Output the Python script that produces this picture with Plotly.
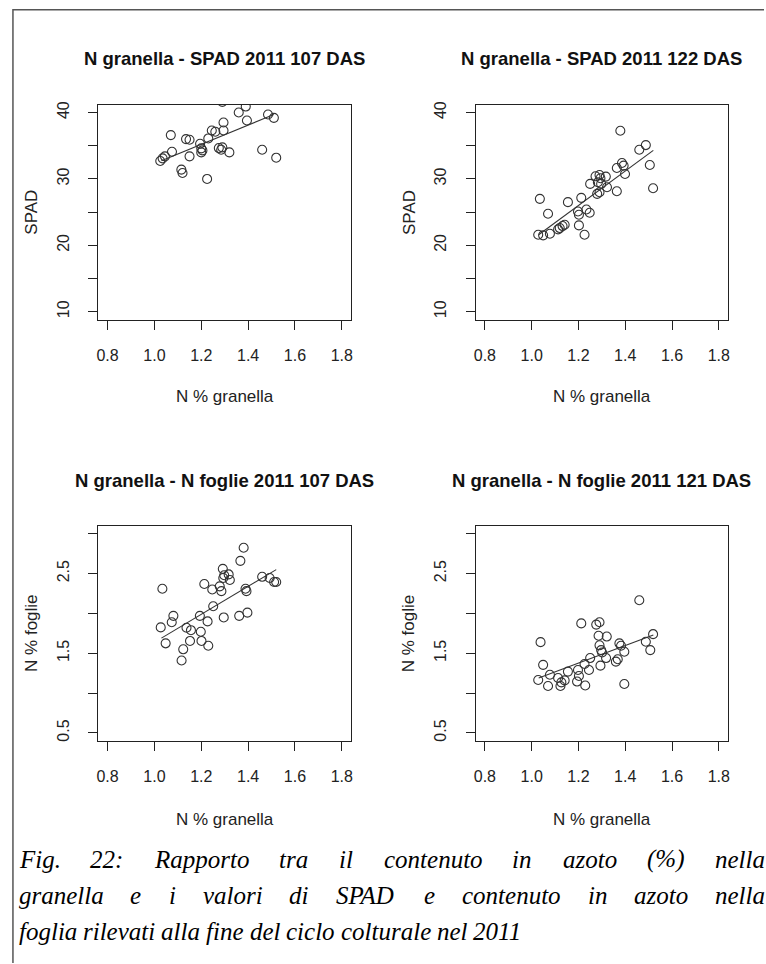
import plotly.graph_objects as go

W, H = 766, 964

# ---------------- data ----------------
x_spad107 = [1.29, 1.39, 1.36, 1.485, 1.51, 1.395, 1.295, 1.295, 1.245, 1.26, 1.23, 1.07,
             1.135, 1.15, 1.195, 1.2, 1.205, 1.2, 1.275, 1.29, 1.285, 1.32, 1.075, 1.15,
             1.025, 1.035, 1.045, 1.46, 1.52, 1.115, 1.12, 1.225]
y_spad107 = [41.6, 40.9, 40.0, 39.7, 39.2, 38.8, 38.5, 37.3, 37.3, 37.1, 36.1, 36.6,
             36.0, 35.9, 35.3, 34.6, 34.3, 34.0, 34.65, 34.75, 34.4, 34.0, 34.1, 33.4,
             32.7, 33.1, 33.4, 34.4, 33.2, 31.4, 30.9, 30.0]
fit_x_spad107 = [1.03, 1.51]
fit_y_spad107 = [32.75, 39.7]

x_spad122 = [1.379, 1.488, 1.46, 1.505, 1.519, 1.386, 1.393, 1.399, 1.364, 1.364,
             1.273, 1.29, 1.294, 1.317, 1.283, 1.297, 1.25, 1.322, 1.29, 1.28,
             1.212, 1.155, 1.035, 1.07, 1.198, 1.202, 1.234, 1.248, 1.202, 1.226,
             1.12, 1.132, 1.141, 1.113, 1.028, 1.049, 1.078]
y_spad122 = [37.25, 35.1, 34.4, 32.1, 28.6, 32.4, 32.0, 30.75, 31.65, 28.15,
             30.4, 30.6, 30.1, 30.35, 29.5, 29.25, 29.25, 28.75, 28.0, 27.75,
             27.15, 26.5, 27.0, 24.75, 25.1, 24.6, 25.4, 24.9, 23.0, 21.6,
             22.6, 22.9, 23.1, 22.4, 21.6, 21.5, 21.75]
fit_x_spad122 = [1.03, 1.52]
fit_y_spad122 = [21.6, 34.3]

x_fog107 = [1.381, 1.367, 1.292, 1.317, 1.322, 1.294, 1.298, 1.213, 1.247, 1.279, 1.286,
            1.034, 1.46, 1.492, 1.511, 1.52, 1.389, 1.393, 1.251, 1.397, 1.362, 1.296,
            1.194, 1.081, 1.074, 1.227, 1.027, 1.137, 1.156, 1.198, 1.048, 1.152, 1.201,
            1.23, 1.123, 1.116]
y_fog107 = [2.825, 2.66, 2.56, 2.49, 2.42, 2.445, 2.48, 2.37, 2.30, 2.34, 2.28,
            2.31, 2.46, 2.445, 2.395, 2.395, 2.31, 2.28, 2.09, 2.01, 1.97, 1.95,
            1.97, 1.97, 1.89, 1.90, 1.825, 1.82, 1.79, 1.77, 1.625, 1.655, 1.655,
            1.595, 1.55, 1.41]
fit_x_fog107 = [1.03, 1.52]
fit_y_fog107 = [1.69, 2.55]

x_fog121 = [1.46, 1.212, 1.276, 1.29, 1.038, 1.286, 1.321, 1.519, 1.488, 1.507, 1.375,
            1.382, 1.396, 1.29, 1.297, 1.301, 1.318, 1.294, 1.36, 1.368, 1.25, 1.049,
            1.226, 1.245, 1.198, 1.202, 1.194, 1.229, 1.155, 1.078, 1.028, 1.07, 1.113,
            1.127, 1.141, 1.123, 1.396]
y_fog121 = [2.166, 1.875, 1.86, 1.89, 1.64, 1.72, 1.71, 1.74, 1.645, 1.54, 1.625,
            1.595, 1.52, 1.60, 1.54, 1.51, 1.44, 1.345, 1.395, 1.425, 1.44, 1.355,
            1.365, 1.29, 1.29, 1.215, 1.145, 1.095, 1.27, 1.23, 1.165, 1.09, 1.19,
            1.135, 1.16, 1.09, 1.115]
fit_x_fog121 = [1.03, 1.52]
fit_y_fog121 = [1.19, 1.73]

panel_titles = ["N granella - SPAD 2011 107 DAS", "N granella - SPAD 2011 122 DAS",
                "N granella - N foglie 2011 107 DAS", "N granella - N foglie 2011 121 DAS"]
x_label = "N % granella"
y_labels = ["SPAD", "SPAD", "N % foglie", "N % foglie"]

x_ticks = [0.8, 1.0, 1.2, 1.4, 1.6, 1.8]
x_ticktext = ["0.8", "1.0", "1.2", "1.4", "1.6", "1.8"]
spad_ticks = [10, 15, 20, 25, 30, 35, 40]
spad_ticktext = ["10", "", "20", "", "30", "", "40"]
fog_ticks = [0.5, 1.0, 1.5, 2.0, 2.5, 3.0]
fog_ticktext = ["0.5", "", "1.5", "", "2.5", ""]

caption_lines = ["Fig. 22: Rapporto tra il contenuto in azoto (%) nella",
                 "granella e i valori di SPAD e contenuto in azoto nella",
                 "foglia rilevati alla fine del ciclo colturale nel 2011"]

# ---------------- layout helpers ----------------
SANS = "Liberation Sans, Arial, sans-serif"
SERIF = "Liberation Serif, Times New Roman, serif"
INK = "#222222"


def px(x):
    return x / W


def py(y):
    return 1 - y / H


fig = go.Figure()

panels = [
    (x_spad107, y_spad107, fit_x_spad107, fit_y_spad107, "x", "y"),
    (x_spad122, y_spad122, fit_x_spad122, fit_y_spad122, "x2", "y2"),
    (x_fog107, y_fog107, fit_x_fog107, fit_y_fog107, "x3", "y3"),
    (x_fog121, y_fog121, fit_x_fog121, fit_y_fog121, "x4", "y4"),
]
for xs, ys, fx, fy, xa, ya in panels:
    fig.add_trace(go.Scatter(x=xs, y=ys, mode="markers", xaxis=xa, yaxis=ya,
                             marker=dict(symbol="circle-open", size=9, color="#333333",
                                         line=dict(width=1.1, color="#333333")),
                             cliponaxis=True, showlegend=False, hoverinfo="skip"))
    fig.add_trace(go.Scatter(x=fx, y=fy, mode="lines", xaxis=xa, yaxis=ya,
                             line=dict(color="#333333", width=1.1),
                             showlegend=False, hoverinfo="skip"))

# pixel boxes of plotting regions
box_x = [(96.7, 351.0), (476.0, 730.0)]
box_y = [(102.0, 318.0), (525.0, 741.0)]

axis_common = dict(showline=True, mirror=True, linecolor=INK, linewidth=1,
                   ticks="outside", ticklen=9, tickwidth=1, tickcolor=INK,
                   showgrid=False, zeroline=False,
                   tickfont=dict(family=SANS, size=16, color=INK))

layout = dict(width=W, height=H, margin=dict(l=0, r=0, t=0, b=0),
              paper_bgcolor="white", plot_bgcolor="white", showlegend=False)

for i in range(4):
    col, row = i % 2, i // 2
    sx = "" if i == 0 else str(i + 1)
    xd = [px(box_x[col][0]), px(box_x[col][1])]
    yd = [py(box_y[row][1]), py(box_y[row][0])]
    layout["xaxis" + sx] = dict(domain=xd, anchor="y" + sx, range=[0.76, 1.84],
                                tickvals=x_ticks, ticktext=x_ticktext,
                                ticklabelstandoff=12, **axis_common)
    if row == 0:
        yt = dict(range=[8.8, 41.2], tickvals=spad_ticks, ticktext=spad_ticktext)
    else:
        yt = dict(range=[0.4, 3.1], tickvals=fog_ticks, ticktext=fog_ticktext)
    layout["yaxis" + sx] = dict(domain=yd, anchor="x" + sx, tickangle=-90,
                                ticklabelstandoff=13, **yt, **axis_common)

fig.update_layout(**layout)

annotations = []
for i in range(4):
    col, row = i % 2, i // 2
    cx = (box_x[col][0] + box_x[col][1]) / 2
    off = 423 * row
    annotations.append(dict(text="<b>" + panel_titles[i] + "</b>", x=px(cx), y=py(56 + off),
                            xref="paper", yref="paper", showarrow=False,
                            xanchor="center", yanchor="middle",
                            font=dict(family=SANS, size=18.5, color="#111111")))
    annotations.append(dict(text=x_label, x=px(cx), y=py(395 + off + 2 * row),
                            xref="paper", yref="paper", showarrow=False,
                            xanchor="center", yanchor="middle",
                            font=dict(family=SANS, size=17, color=INK)))
    annotations.append(dict(text=y_labels[i], x=px(box_x[col][0] - 67),
                            y=py((box_y[row][0] + box_y[row][1]) / 2),
                            xref="paper", yref="paper", showarrow=False, textangle=-90,
                            xanchor="center", yanchor="middle",
                            font=dict(family=SANS, size=17, color=INK)))

# caption, justified word by word (Times italic advance widths, 1/1000 em)
TI = {" ": 250, "(": 333, ")": 333, "%": 833, ".": 250, ":": 333, "A": 611, "D": 722,
      "F": 611, "P": 611, "R": 611, "S": 500, "a": 500, "c": 444, "d": 500, "e": 444,
      "f": 278, "g": 500, "i": 278, "l": 278, "n": 500, "o": 500, "p": 500, "r": 389,
      "t": 278, "u": 500, "v": 444, "z": 389}
CAP_FS = 25
left_px, right_px = 15.0, 765.0
line_y = [860, 896, 932]


def wwidth(w):
    return sum(TI.get(c, 500) for c in w) / 1000 * CAP_FS


for li, line in enumerate(caption_lines):
    words = line.split(" ")
    widths = [wwidth(w) for w in words]
    if li < len(caption_lines) - 1:
        gap = (right_px - left_px - sum(widths)) / (len(words) - 1)
    else:
        gap = 0.25 * CAP_FS
    xcur = left_px
    for w, ww in zip(words, widths):
        annotations.append(dict(text=w, x=px(xcur), y=py(line_y[li]), xref="paper",
                                yref="paper", showarrow=False, xanchor="left",
                                yanchor="middle",
                                font=dict(family=SERIF, size=CAP_FS, color="#000000",
                                          style="italic")))
        xcur += ww + gap

fig.update_layout(annotations=annotations)

# page frame (left and top rule)
fig.add_shape(type="path", xref="paper", yref="paper",
              path=f"M {px(11)} {py(964)} L {px(11)} {py(6.7)} L {px(766)} {py(6.7)}",
              line=dict(color="#555555", width=1.5))

fig.write_html("out.html")
